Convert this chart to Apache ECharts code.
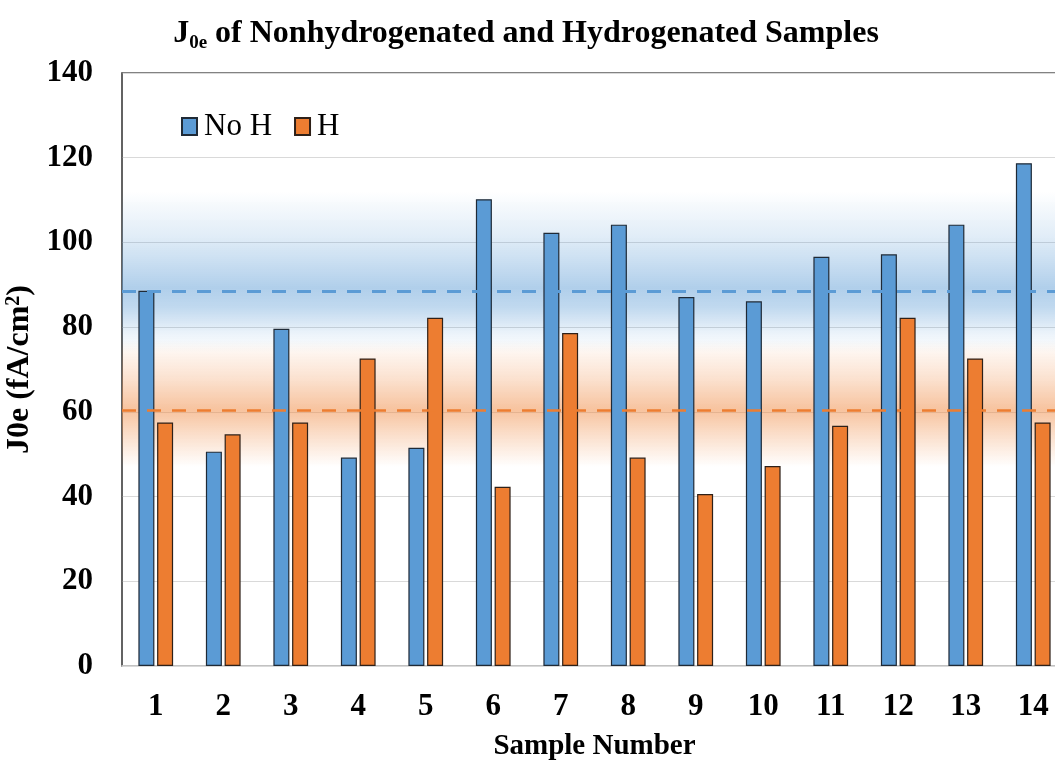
<!DOCTYPE html>
<html>
<head>
<meta charset="utf-8">
<script src="https://cdn.jsdelivr.net/npm/echarts@6/dist/echarts.min.js"></script>
<style>
html,body{margin:0;padding:0;background:#fff;}
#chart{width:1055px;height:766px;}
</style>
</head>
<body>
<div id="chart"></div>
<script>
var categories = ['1','2','3','4','5','6','7','8','9','10','11','12','13','14'];
var noH = [88.6, 50.6, 79.6, 49.2, 51.5, 110.2, 102.3, 104.2, 87.1, 86.1, 96.6, 97.2, 104.2, 118.7];
var withH = [57.5, 54.7, 57.5, 72.6, 82.2, 42.3, 78.6, 49.2, 40.6, 47.2, 56.7, 82.2, 72.6, 57.5];
var meanNoH = 88.4;
var meanH = 60.4;
var yTicks = [0, 20, 40, 60, 80, 100, 120, 140];

var serif = 'Liberation Serif';
var chart = echarts.init(document.getElementById('chart'));

function vGrad(stops) {
  return {type: 'linear', x: 0, y: 0, x2: 0, y2: 1, colorStops: stops};
}

chart.setOption({
  animation: false,
  title: {
    text: '{j|J}{s|0e}{j| of Nonhydrogenated and Hydrogenated Samples}',
    left: 521,
    top: 10,
    textAlign: 'center',
    textStyle: {
      rich: {
        j: {fontFamily: serif, fontWeight: 'bold', fontSize: 32, color: '#000', lineHeight: 38},
        s: {fontFamily: serif, fontWeight: 'bold', fontSize: 19, color: '#000', lineHeight: 38, verticalAlign: 'bottom', padding: [12, 0, 0, 0]}
      }
    }
  },
  legend: {
    left: 176,
    top: 106,
    itemWidth: 15,
    itemHeight: 17,
    itemGap: 22,
    icon: 'rect',
    textStyle: {fontFamily: serif, fontSize: 31, color: '#000', padding: [0, 0, 0, 2]},
    data: ['No H', 'H']
  },
  grid: {
    left: 122,
    top: 73,
    width: 945,
    height: 593,
    show: true,
    borderColor: '#595959',
    borderWidth: 1.5,
    containLabel: false,
    outerBoundsMode: 'none'
  },
  xAxis: {
    type: 'category',
    data: categories,
    boundaryGap: true,
    axisTick: {show: false},
    axisLine: {show: true, lineStyle: {color: '#d9d9d9', width: 1.5}},
    axisLabel: {fontFamily: serif, fontWeight: 'bold', fontSize: 31, color: '#000', margin: 25},
    name: 'Sample Number',
    nameLocation: 'middle',
    nameGap: 66,
    nameTextStyle: {fontFamily: serif, fontWeight: 'bold', fontSize: 29, color: '#000'}
  },
  yAxis: {
    type: 'value',
    min: yTicks[0],
    max: yTicks[yTicks.length - 1],
    interval: yTicks[1] - yTicks[0],
    axisLine: {show: true, lineStyle: {color: '#595959', width: 1.5}},
    axisTick: {show: false},
    splitLine: {show: true, lineStyle: {color: '#d9d9d9', width: 1.2}},
    axisLabel: {fontFamily: serif, fontWeight: 'bold', fontSize: 31, color: '#000', margin: 29},
    name: 'J0e (fA/cm{sup|2})',
    nameLocation: 'middle',
    nameGap: 74,
    nameTextStyle: {
      fontFamily: serif, fontWeight: 'bold', fontSize: 32, color: '#000',
      rich: {sup: {fontFamily: serif, fontWeight: 'bold', fontSize: 20, color: '#000', verticalAlign: 'top', padding: [0, 0, 12, 0]}}
    }
  },
  series: [
    {
      name: 'No H',
      type: 'bar',
      data: noH,
      barWidth: 16,
      barGap: '17%',
      itemStyle: {color: '#5B9BD5', borderColor: '#1f2a36', borderWidth: 1.2}
    },
    {
      name: 'H',
      type: 'bar',
      data: withH,
      barWidth: 16,
      barGap: '17%',
      itemStyle: {color: '#ED7D31', borderColor: '#2e2018', borderWidth: 1.2}
    },
    {
      name: 'bands',
      type: 'line',
      data: [],
      z: 5,
      silent: true,
      markArea: {
        silent: true,
        data: [
          [
            {yAxis: 112, itemStyle: {color: vGrad([
              {offset: 0, color: 'rgba(91,155,213,0)'},
              {offset: 0.3, color: 'rgba(91,155,213,0.2)'},
              {offset: 0.6, color: 'rgba(91,155,213,0.48)'},
              {offset: 0.72, color: 'rgba(91,155,213,0.38)'},
              {offset: 0.88, color: 'rgba(91,155,213,0.12)'},
              {offset: 1, color: 'rgba(91,155,213,0)'}
            ])}},
            {yAxis: 74}
          ],
          [
            {yAxis: 77, itemStyle: {color: vGrad([
              {offset: 0, color: 'rgba(240,140,70,0)'},
              {offset: 0.3, color: 'rgba(240,140,70,0.25)'},
              {offset: 0.55, color: 'rgba(240,140,70,0.52)'},
              {offset: 0.75, color: 'rgba(240,140,70,0.28)'},
              {offset: 1, color: 'rgba(240,140,70,0)'}
            ])}},
            {yAxis: 47}
          ]
        ]
      },
      markLine: {
        silent: true,
        symbol: ['none', 'none'],
        label: {show: false},
        data: [
          {yAxis: meanNoH, lineStyle: {color: '#5B9BD5', width: 3, type: [14, 11]}},
          {yAxis: meanH, lineStyle: {color: '#ED7D31', width: 2.5, type: [14, 11]}}
        ]
      }
    }
  ]
});
</script>
</body>
</html>
